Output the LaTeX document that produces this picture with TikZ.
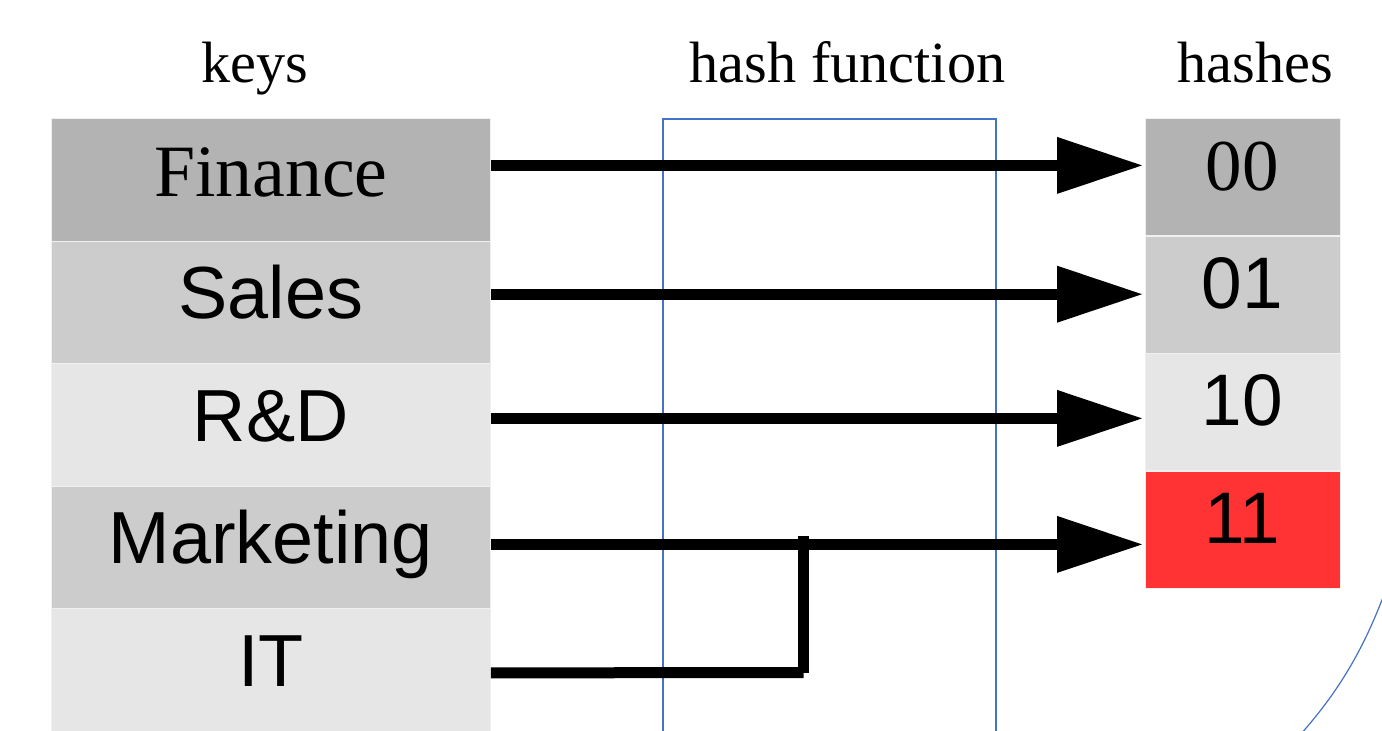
\documentclass[tikz,border=0pt]{standalone}
\usepackage{fontspec}
\setmainfont{Liberation Serif}
\newfontfamily\lsans{Liberation Sans}
\usetikzlibrary{arrows.meta}

\definecolor{cellA}{HTML}{B3B3B3}
\definecolor{cellB}{HTML}{CCCCCC}
\definecolor{cellC}{HTML}{E6E6E6}
\definecolor{hot}{HTML}{FF3333}
\definecolor{fnblue}{HTML}{4472C4}

\tikzset{
  keycell/.style={draw=gray!12, line width=0.8pt, inner sep=0pt, anchor=north west,
    minimum width=439pt, text height=78pt, text depth=44.5pt,
    font=\fontsize{73.8}{80}\selectfont},
  hashcell/.style={draw=gray!12, line width=0.8pt, inner sep=0pt, anchor=north west,
    minimum width=195pt, text height=72.5pt, text depth=44.8pt,
    font=\fontsize{73}{80}\selectfont},
  heading/.style={anchor=base, inner sep=0pt, font=\fontsize{58.3}{64}\selectfont},
  fnbox/.style={draw=fnblue, line width=1.2pt},
  wire/.style={line width=11pt, line cap=butt},
  flow/.style={wire, shorten >=2.5pt,
    -{Triangle[length=85pt, width=57pt, line width=0pt]}},
}

\begin{document}
\begin{tikzpicture}[x=1pt, y=-1pt]
\useasboundingbox (0,0) rectangle (1382,731);
\clip (0,0) rectangle (1382,731);
\fill[white] (0,0) rectangle (1382,731);

% column headings
\node[heading] (hkeys) at (255,82) {keys};
\node[heading] (hfn)   at (847.5,82) {hash function};
\node[heading] (hhash) at (1255,82) {hashes};

% key column
\node[keycell, fill=cellA] (k1) at (51,118)   {Finance};
\node[keycell, fill=cellB] (k2) at (51,240.5) {\lsans Sales};
\node[keycell, fill=cellC] (k3) at (51,363)   {\lsans R\&D};
\node[keycell, fill=cellB] (k4) at (51,485.5) {\lsans Marketing};
\node[keycell, fill=cellC] (k5) at (51,608)   {\lsans IT};

% hash column
\node[hashcell, fill=cellA] (h00) at (1144.5,118)   {00};
\node[hashcell, fill=cellB] (h01) at (1144.5,235.7) {\lsans 01};
\node[hashcell, fill=cellC] (h10) at (1144.5,353)   {\lsans 10};
\node[hashcell, fill=hot]   (h11) at (1144.5,470.7) {\lsans 11};

% hash function box (open at the bottom) and the arc at the lower right
\draw[fnbox] (663,735) -- (663,119) -- (996,119) -- (996,735);
\draw[fnbox] (1385,592) .. controls (1364,648) and (1340,690) .. (1300,735);

% start points of the connectors
\coordinate (s1) at ([yshift=14.25pt]k1.east);
\coordinate (s2) at ([yshift=7.95pt]k2.east);
\coordinate (s3) at ([yshift=6.25pt]k3.east);
\coordinate (s4) at ([yshift=2.75pt]k4.east);
\coordinate (s5) at ([yshift=-3.25pt]k5.east);
\coordinate (jb) at (803.5,672.5);
\coordinate (jt) at (803.5,535.5);

% mappings
\draw[flow] (s1) -- (s1 -| h00.west);
\draw[flow] (s2) -- (s2 -| h01.west);
\draw[flow] (s3) -- (s3 -| h10.west);
\draw[flow] (s4) -- (s4 -| h11.west);
\draw[wire] (s5) -- (jb);
\draw[wire] (jb) -- (jt);
\end{tikzpicture}
\end{document}
